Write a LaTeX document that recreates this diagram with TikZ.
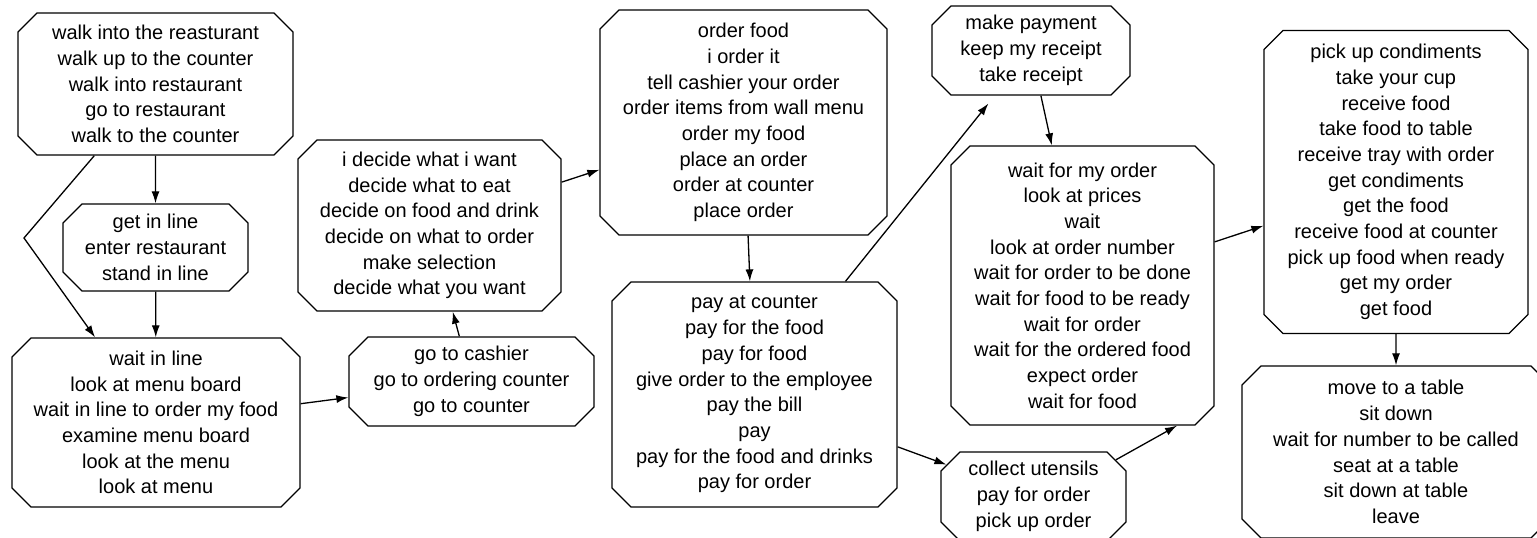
\documentclass[tikz,border=0pt]{standalone}
\usepackage{fontspec}
\setmainfont{Liberation Sans}
\usetikzlibrary{shapes.misc,arrows.meta}

\begin{document}
\begin{tikzpicture}[x=1pt,y=-1pt,
    event/.style={draw, line width=1.3pt, chamfered rectangle,
      chamfered rectangle xsep=9.5pt, chamfered rectangle ysep=9.5pt,
      inner sep=0pt, align=center, font=\fontsize{20pt}{25.7pt}\selectfont},
    dims/.style 2 args={minimum width=#1pt, minimum height=#2pt},
    >={Latex[length=12pt,width=8pt]}, line width=1.3pt]
  \useasboundingbox (0,0) rectangle (1537,538);

  % entering
  \node[event, dims={275}{142}] (enter) at (155.5,84)
    {walk into the reasturant\\walk up to the counter\\walk into restaurant\\go to restaurant\\walk to the counter};
  \node[event, dims={185}{87}] (queue) at (155.5,247.5)
    {get in line\\enter restaurant\\stand in line};
  \node[event, dims={288}{169}] (wait) at (156,422.5)
    {wait in line\\look at menu board\\wait in line to order my food\\examine menu board\\look at the menu\\look at menu};

  % ordering
  \node[event, dims={245}{87}] (gocounter) at (471.5,381.5)
    {go to cashier\\go to ordering counter\\go to counter};
  \node[event, dims={263}{171}] (decide) at (429.5,225.5)
    {i decide what i want\\decide what to eat\\decide on food and drink\\decide on what to order\\make selection\\decide what you want};
  \node[event, dims={287}{225}] (order) at (743.5,122.5)
    {order food\\i order it\\tell cashier your order\\order items from wall menu\\order my food\\place an order\\order at counter\\place order};
  \node[event, dims={285}{225}] (pay) at (754.5,394.5)
    {pay at counter\\pay for the food\\pay for food\\give order to the employee\\pay the bill\\pay\\pay for the food and drinks\\pay for order};

  % paying and waiting
  \node[event, dims={198}{87}] (receipt) at (1031,50.5)
    {make payment\\keep my receipt\\take receipt};
  \node[event, dims={263}{279}] (waitfood) at (1082.5,285.5)
    {wait for my order\\look at prices\\wait\\look at order number\\wait for order to be done\\wait for food to be ready\\wait for order\\wait for the ordered food\\expect order\\wait for food};
  \node[event, dims={185}{87}] (utensils) at (1033.5,496.5)
    {collect utensils\\pay for order\\pick up order};

  % eating
  \node[event, dims={264}{303}] (pickup) at (1396,182)
    {pick up condiments\\take your cup\\receive food\\take food to table\\receive tray with order\\get condiments\\get the food\\receive food at counter\\pick up food when ready\\get my order\\get food};
  \node[event, dims={308}{172}] (table) at (1396,452)
    {move to a table\\sit down\\wait for number to be called\\seat at a table\\sit down at table\\leave};

  % links
  \draw[->] (enter) -- (queue);
  \draw[->] (queue) -- (wait);
  \coordinate (bend) at (24,238);
  \draw[->] (enter) -- (bend) -- (wait);
  \draw[->] (wait) -- (gocounter);
  \draw[->] (gocounter) -- (decide);
  \draw[->] (decide) -- (order);
  \draw[->] (order) -- (pay);
  \draw[->, shorten >=10pt] (pay) -- (receipt);
  \draw[->] (receipt) -- (waitfood);
  \draw[->] (pay) -- (utensils);
  \draw[->] (utensils.24) -- (waitfood.-56);
  \draw[->] (waitfood) -- (pickup);
  \draw[->] (pickup) -- (table);

\end{tikzpicture}
\end{document}
